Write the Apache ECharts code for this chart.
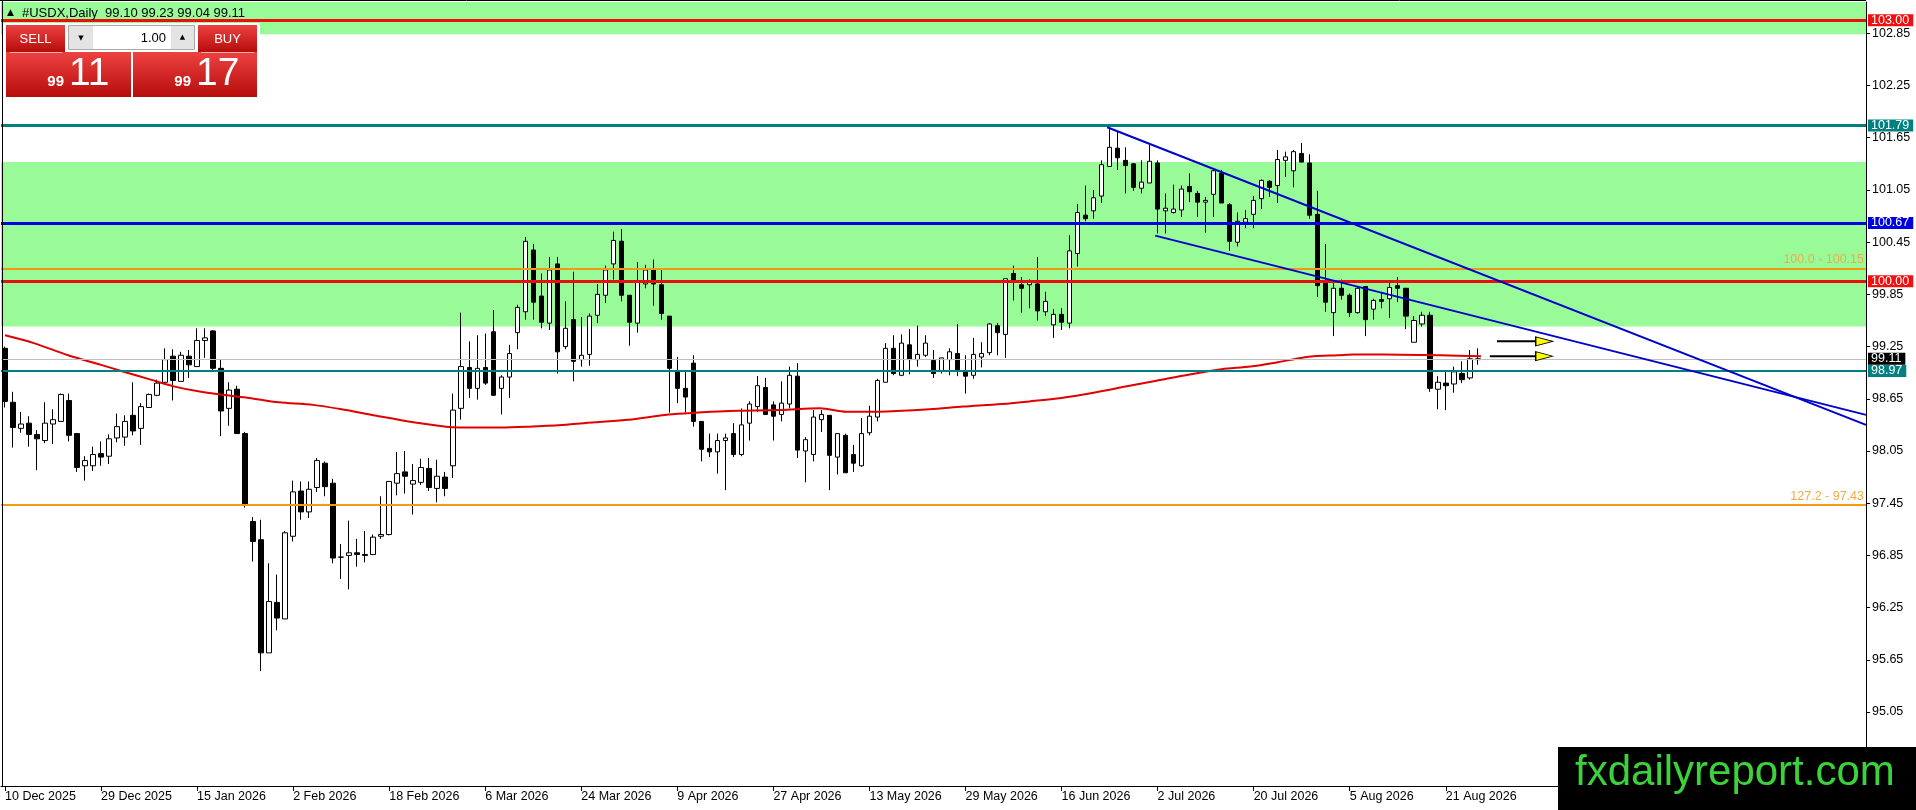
<!DOCTYPE html>
<html><head><meta charset="utf-8">
<script src="https://cdn.jsdelivr.net/npm/echarts@6/dist/echarts.min.js"></script>
<style>html,body{margin:0;padding:0;background:#fff;overflow:hidden}#c{width:1916px;height:810px}</style>
</head><body><div id="c"></div>
<script>
// ---------- data ----------
const symbolName = '#USDX,Daily';
const tickLabels = ['10 Dec 2025','29 Dec 2025','15 Jan 2026','2 Feb 2026','18 Feb 2026','6 Mar 2026','24 Mar 2026','9 Apr 2026','27 Apr 2026','13 May 2026','29 May 2026','16 Jun 2026','2 Jul 2026','20 Jul 2026','5 Aug 2026','21 Aug 2026'];
const opens = [
99.23,98.61,98.31,98.37,98.24,98.17,98.36,98.39,98.63,98.25,97.88,97.88,98.02,97.99,98.20,98.21,98.46,98.31,98.55,98.69,
98.84,99.14,98.85,99.14,99.02,99.32,99.43,99.00,98.54,98.76,98.25,97.24,97.03,95.73,96.31,96.12,97.07,97.59,97.35,97.63,
97.91,97.68,96.83,96.85,96.88,96.86,96.86,97.07,97.09,97.68,97.81,97.67,97.69,97.85,97.62,97.75,97.88,98.54,99.01,98.77,
99.01,99.42,98.77,98.90,99.41,99.65,100.36,99.83,99.52,100.20,99.25,99.56,99.10,99.16,99.61,99.84,100.20,100.46,99.84,99.52,
99.97,100.14,99.96,99.60,98.96,98.77,99.06,98.39,98.08,98.04,98.17,98.25,98.01,98.37,98.56,98.78,98.58,98.47,98.59,98.91,
98.05,98.01,98.41,98.46,97.98,98.23,98.01,97.88,98.26,98.44,98.84,99.23,98.92,99.27,99.10,99.15,99.09,98.97,99.10,99.17,
98.96,98.92,99.13,99.18,99.49,99.39,100.09,99.96,99.96,99.97,99.65,99.50,99.62,99.52,100.32,100.76,100.81,100.98,101.32,101.53,
101.39,101.35,101.07,101.13,101.36,100.81,100.79,100.82,101.09,101.01,100.91,101.00,101.24,100.88,100.45,100.68,100.77,100.95,101.15,101.10,
101.39,101.27,101.47,101.36,100.77,99.98,99.64,99.92,99.84,99.64,99.94,99.68,99.79,99.80,99.95,99.92,99.30,99.51,99.61,98.76,
98.83,98.82,98.94,98.89,99.10];
const highs = [
99.25,98.73,98.50,98.45,98.29,98.61,98.53,98.71,98.71,98.25,97.99,98.10,98.16,98.24,98.48,98.46,98.84,98.60,98.71,98.87,
99.23,99.22,99.19,99.21,99.46,99.46,99.44,99.10,98.84,98.80,98.27,97.29,97.26,96.76,96.63,97.13,97.71,97.70,97.70,97.97,
97.93,97.73,96.98,97.25,97.04,97.13,97.09,97.53,97.70,98.04,98.05,97.90,97.96,97.97,97.95,97.81,98.71,99.64,99.31,99.38,
99.40,99.67,98.92,99.27,99.73,100.51,100.43,100.09,100.28,100.28,99.77,100.11,99.59,99.63,99.97,100.18,100.57,100.60,99.84,100.22,
100.19,100.25,100.13,99.60,99.13,98.96,99.15,98.39,98.25,98.25,98.25,98.37,98.54,98.62,98.91,98.89,98.62,98.85,99.02,99.06,
98.21,98.52,98.52,98.46,98.25,98.25,98.12,98.43,98.57,98.88,99.29,99.38,99.39,99.45,99.49,99.38,99.21,99.12,99.23,99.51,
99.15,99.35,99.30,99.52,99.52,100.03,100.18,100.05,100.02,100.28,99.88,99.68,99.69,100.53,100.89,101.10,101.05,101.39,101.76,101.72,
101.54,101.36,101.39,101.57,101.39,101.01,101.11,101.10,101.24,101.04,100.97,101.28,101.28,100.90,100.79,100.82,100.98,101.17,101.16,101.51,
101.49,101.51,101.59,101.46,101.04,100.43,99.98,100.02,99.86,99.94,99.94,99.80,99.87,99.98,100.05,99.92,99.60,99.65,99.65,98.91,
98.96,99.02,99.08,99.21,99.23];
const lows = [
98.55,98.09,98.26,98.10,97.83,98.14,98.13,98.39,98.16,97.81,97.71,97.82,97.88,97.90,98.15,98.11,98.23,98.12,98.55,98.68,
98.83,98.63,98.85,98.89,99.02,99.12,98.98,98.22,98.34,98.25,97.40,96.78,95.52,95.73,95.99,96.12,97.01,97.26,97.28,97.58,
97.53,96.76,96.58,96.46,96.72,96.77,96.86,97.04,97.08,97.54,97.56,97.32,97.66,97.59,97.46,97.53,97.74,98.41,98.66,98.64,
98.81,98.69,98.47,98.66,99.22,99.56,99.56,99.46,99.44,98.94,99.22,98.85,99.02,99.03,99.52,99.75,100.02,99.77,99.26,99.41,
99.92,99.72,99.56,98.49,98.60,98.49,98.33,97.93,97.98,97.79,97.60,97.98,97.99,98.17,98.50,98.47,98.17,98.39,98.54,97.97,
97.69,97.93,98.27,97.60,97.78,97.80,97.81,97.87,98.23,98.39,98.84,98.92,98.91,98.93,99.02,99.13,98.89,98.94,98.92,98.91,
98.71,98.88,99.01,99.15,99.15,99.12,99.78,99.64,99.69,99.55,99.60,99.35,99.44,99.46,100.17,100.69,100.72,100.90,101.32,101.28,
101.01,101.04,101.01,101.13,100.55,100.55,100.78,100.74,100.91,100.74,100.56,100.74,100.90,100.35,100.40,100.61,100.61,100.83,100.97,100.90,
101.20,101.08,101.37,100.72,99.82,99.65,99.37,99.79,99.59,99.63,99.37,99.56,99.69,99.58,99.76,99.45,99.30,99.48,98.73,98.53,
98.52,98.72,98.83,98.87,99.04];
const closes = [
98.62,98.32,98.36,98.24,98.19,98.37,98.41,98.70,98.23,97.86,97.94,98.01,97.98,98.19,98.33,98.39,98.28,98.56,98.70,98.83,
99.10,98.86,99.15,99.04,99.32,99.35,99.00,98.51,98.75,98.25,97.43,97.01,95.73,96.32,96.13,97.11,97.58,97.35,97.61,97.94,
97.64,96.82,96.83,96.88,96.86,96.85,97.06,97.09,97.70,97.79,97.76,97.71,97.86,97.63,97.76,97.62,98.52,99.02,98.77,99.00,
98.83,98.69,98.90,99.17,99.70,100.46,99.76,99.53,100.13,99.19,99.46,99.08,99.15,99.60,99.85,100.13,100.47,99.84,99.53,99.99,
100.13,99.97,99.63,99.00,98.77,98.67,98.39,98.07,98.04,98.17,98.20,98.01,98.35,98.59,98.80,98.47,98.45,98.60,98.92,98.06,
98.18,98.44,98.47,98.00,98.25,97.80,97.91,98.25,98.45,98.86,99.23,98.94,99.29,99.10,99.16,99.29,98.94,99.12,99.19,98.98,
98.91,99.16,99.17,99.51,99.41,100.03,100.00,99.92,100.01,99.66,99.77,99.62,99.53,100.35,100.79,100.72,100.96,101.34,101.54,101.42,
101.33,101.08,101.14,101.38,100.83,100.84,100.83,101.06,101.03,100.91,100.93,101.27,100.90,100.46,100.69,100.72,100.93,101.16,101.08,101.40,
101.43,101.49,101.37,100.76,99.95,99.76,99.92,99.84,99.64,99.92,99.56,99.78,99.77,99.93,99.92,99.60,99.55,99.61,98.77,98.84,
98.80,98.96,98.87,99.11,99.11];
// moving average: [bar index, value]
const maPoints = [[0,99.38],[3.6,99.29],[7.9,99.15],[12,99.04],[14.5,98.97],[18.2,98.87],[21.2,98.79],[24.5,98.73],[28.6,98.68],[30.5,98.66],
[34.2,98.61],[38.5,98.58],[42.6,98.52],[46.7,98.45],[51,98.38],[55.1,98.33],[59.2,98.32],[62,98.32],[65.4,98.33],[69.6,98.35],
[73.7,98.38],[77.9,98.41],[81.2,98.45],[82.9,98.47],[86.3,98.49],[90.4,98.51],[96.8,98.52],[101.8,98.54],[105.1,98.50],[107.6,98.50],
[111.4,98.51],[115.5,98.53],[119.7,98.56],[124.5,98.59],[128,98.62],[132,98.66],[136,98.72],[140,98.79],[144,98.86],[148,98.93],
[152,98.99],[155.6,99.02],[159,99.07],[161.9,99.12],[163.5,99.14],[166.5,99.15],[168.5,99.16],[172.2,99.16],[179.4,99.15],[184.4,99.14]];
const yTicks = [95.05,95.65,96.25,96.85,97.45,98.05,98.65,99.25,99.85,100.45,101.05,101.65,102.25,102.85];
const levelValues = [103.00, 101.79, 100.67, 100.15, 100.00, 99.11, 98.97, 97.43];
const fibTexts = ['100.0 - 100.15', '127.2 - 97.43'];
const bandRanges = [[102.84, 103.21], [99.48, 101.37]];
const trendLines = [[[137.7, 101.77], [232.5, 98.35]], [[143.7, 100.525], [232.5, 98.465]]];
const arrowLevels = [99.31, 99.14];
const arrowStarts = [186.4, 185.5];
const arrowEnd = 191.3, arrowHead = 192.3;
const bid = 99.11, ask = 99.17, lot = '1.00';
const N = 233; // bar slots on the time axis (incl. empty space on the right)
const yMin = 94.2, yMax = 103.21;

// ---------- build ----------
const FONT = 'Liberation Sans, Arial, sans-serif';
const categories = Array.from({length: N}, (_, i) => 'b' + i);
const candles = opens.map((o, i) => [o, closes[i], lows[i], highs[i]]);
const last = candles.length - 1;
const showIdx = (idx) => idx % 12 === 0 && idx / 12 < tickLabels.length;

const RED = '#e8100c', TEAL = '#008080', BLUE = '#0000e0', ORANGE = '#f39a12';
function boxLabel(bg) {
  return {show: true, position: 'end', distance: 2, formatter: p => p.value.toFixed(2),
    color: '#fff', backgroundColor: bg, padding: [1, 4, 0, 3], fontSize: 12.5, fontFamily: FONT, lineHeight: 11};
}
function fibLabel(t) {
  return {show: true, position: 'insideEndTop', distance: 2, formatter: t, color: '#f2aa48', fontSize: 12.5, fontFamily: FONT};
}
const levelStyles = [
  {lineStyle: {color: RED, width: 3, type: 'solid'}, label: boxLabel('#f01010')},
  {lineStyle: {color: TEAL, width: 3, type: 'solid'}, label: boxLabel(TEAL)},
  {lineStyle: {color: BLUE, width: 3, type: 'solid'}, label: boxLabel(BLUE)},
  {lineStyle: {color: ORANGE, width: 2, type: 'solid'}, label: fibLabel(fibTexts[0])},
  {lineStyle: {color: RED, width: 3, type: 'solid'}, label: boxLabel('#f01010')},
  {lineStyle: {color: '#c0c0c0', width: 1, type: 'solid'}, label: boxLabel('#000')},
  {lineStyle: {color: TEAL, width: 2, type: 'solid'}, label: boxLabel(TEAL)},
  {lineStyle: {color: ORANGE, width: 2, type: 'solid'}, label: fibLabel(fibTexts[1])}
];
const markLineData = levelValues.map((v, i) => Object.assign({yAxis: v}, levelStyles[i]));

const redGrad = {type: 'linear', x: 0, y: 0, x2: 0, y2: 1,
  colorStops: [{offset: 0, color: '#ee4242'}, {offset: 1, color: '#b50c0c'}]};
const bidParts = bid.toFixed(2).split('.'), askParts = ask.toFixed(2).split('.');
const titleText = symbolName + '  ' + [opens[last], highs[last], lows[last], closes[last]].map(v => v.toFixed(2)).join(' ');

const G = [];
function add(el) { el.z = 100; G.push(el); }
// frame
add({type: 'line', shape: {x1: 2.5, y1: 0, x2: 2.5, y2: 786}, style: {stroke: '#000', lineWidth: 1}});
add({type: 'line', shape: {x1: 0, y1: 0.5, x2: 1866, y2: 0.5}, style: {stroke: '#000', lineWidth: 1}});
// title
add({type: 'text', x: 7, y: 13, style: {text: '\u25B2', font: '9px DejaVu Sans', fill: '#000', verticalAlign: 'middle'}});
add({type: 'text', x: 22, y: 13, style: {text: titleText, font: '13px ' + FONT, fill: '#000', verticalAlign: 'middle'}});
// trade panel
add({type: 'rect', shape: {x: 3, y: 23, width: 257, height: 77}, style: {fill: '#fff'}});
add({type: 'rect', shape: {x: 6, y: 25, width: 59, height: 27}, style: {fill: redGrad}});
add({type: 'rect', shape: {x: 198, y: 25, width: 59, height: 27}, style: {fill: redGrad}});
add({type: 'rect', shape: {x: 6, y: 52, width: 125, height: 45}, style: {fill: redGrad}});
add({type: 'rect', shape: {x: 133, y: 52, width: 124, height: 45}, style: {fill: redGrad}});
add({type: 'line', shape: {x1: 10, y1: 52.5, x2: 62, y2: 52.5}, style: {stroke: 'rgba(255,190,190,0.9)', lineWidth: 1}});
add({type: 'line', shape: {x1: 201, y1: 52.5, x2: 254, y2: 52.5}, style: {stroke: 'rgba(255,190,190,0.9)', lineWidth: 1}});
add({type: 'rect', shape: {x: 68.5, y: 25.5, width: 126, height: 24}, style: {fill: '#fff', stroke: '#a8a8a8', lineWidth: 1}});
add({type: 'rect', shape: {x: 69, y: 26, width: 24, height: 23}, style: {fill: '#e4e4e4'}});
add({type: 'rect', shape: {x: 171, y: 26, width: 23, height: 23}, style: {fill: '#e4e4e4'}});
add({type: 'text', x: 35.5, y: 39, style: {text: 'SELL', font: '13px ' + FONT, fill: '#fff', align: 'center', verticalAlign: 'middle'}});
add({type: 'text', x: 227.5, y: 39, style: {text: 'BUY', font: '13px ' + FONT, fill: '#fff', align: 'center', verticalAlign: 'middle'}});
add({type: 'text', x: 166, y: 38, style: {text: lot, font: '13px ' + FONT, fill: '#000', align: 'right', verticalAlign: 'middle'}});
add({type: 'text', x: 81, y: 38, style: {text: '\u25BC', font: '7px DejaVu Sans', fill: '#000', align: 'center', verticalAlign: 'middle'}});
add({type: 'text', x: 182.5, y: 37, style: {text: '\u25B2', font: '7px DejaVu Sans', fill: '#000', align: 'center', verticalAlign: 'middle'}});
add({type: 'text', x: 64, y: 82, style: {text: bidParts[0], font: 'bold 15px ' + FONT, fill: '#fff', align: 'right', verticalAlign: 'middle'}});
add({type: 'text', x: 69, y: 74, style: {text: bidParts[1], font: '39px ' + FONT, fill: '#fff', align: 'left', verticalAlign: 'middle'}});
add({type: 'text', x: 191, y: 82, style: {text: askParts[0], font: 'bold 15px ' + FONT, fill: '#fff', align: 'right', verticalAlign: 'middle'}});
add({type: 'text', x: 196, y: 74, style: {text: askParts[1], font: '39px ' + FONT, fill: '#fff', align: 'left', verticalAlign: 'middle'}});
// watermark
add({type: 'rect', shape: {x: 1558, y: 747, width: 358, height: 63}, style: {fill: '#000'}});
add({type: 'text', x: 1575, y: 773, style: {text: 'fxdailyreport.com', font: '42px ' + FONT, fill: '#3cd23c', verticalAlign: 'middle'}});

const option = {
  animation: false,
  backgroundColor: '#fff',
  textStyle: {fontFamily: FONT},
  grid: {left: 1, right: 50, top: 2, bottom: 24, containLabel: false},
  xAxis: [{
    type: 'category', data: categories, boundaryGap: true,
    axisLine: {show: true, onZero: false, lineStyle: {color: '#000', width: 1}},
    axisTick: {show: true, alignWithLabel: true, interval: showIdx, length: 5, lineStyle: {color: '#000'}},
    axisLabel: {show: true, interval: showIdx, formatter: (v, idx) => tickLabels[idx / 12] || '',
      align: 'left', color: '#000', fontSize: 12.5, fontFamily: FONT, margin: 4},
    splitLine: {show: false}
  }, {
    type: 'value', min: -0.5, max: N - 0.5, show: false, axisLine: {onZero: false}
  }],
  yAxis: {
    type: 'value', position: 'right', min: yMin, max: yMax, scale: true,
    axisLine: {show: true, onZero: false, lineStyle: {color: '#000', width: 1}},
    axisTick: {show: true, length: 4, customValues: yTicks, lineStyle: {color: '#000'}},
    axisLabel: {show: true, customValues: yTicks, formatter: v => v.toFixed(2), color: '#000',
      fontSize: 12.5, fontFamily: FONT, margin: 6},
    splitLine: {show: false}
  },
  series: [
    {type: 'line', name: 'bands', xAxisIndex: 1, data: [], z: 1, silent: true,
      markArea: {silent: true, itemStyle: {color: '#98fb98', opacity: 1},
        data: bandRanges.map(r => [{yAxis: r[0]}, {yAxis: r[1]}])}},
    {type: 'candlestick', name: 'USDX', xAxisIndex: 0, data: candles, barWidth: 5, z: 3,
      itemStyle: {color: '#fff', color0: '#000', borderColor: '#000', borderColor0: '#000', borderColorDoji: '#000', borderWidth: 1}},
    {type: 'line', name: 'MA', xAxisIndex: 1, data: maPoints, showSymbol: false, symbol: 'none', smooth: 0.3, z: 4,
      lineStyle: {color: '#e00000', width: 2}},
    {type: 'line', name: 'levels', xAxisIndex: 1, data: [], z: 5, silent: true,
      markLine: {silent: true, symbol: ['none', 'none'], animation: false, data: markLineData}},
    ...trendLines.map((t, k) => ({type: 'line', name: 'trend' + k, xAxisIndex: 1, data: t, symbol: 'none', z: 6,
      lineStyle: {color: '#0000cc', width: 2}})),
    ...arrowLevels.map((v, k) => ({type: 'line', name: 'arrow' + k, xAxisIndex: 1,
      data: [[arrowStarts[k], v], [arrowEnd, v]], symbol: 'none', z: 6, lineStyle: {color: '#000', width: 2}})),
    {type: 'scatter', name: 'heads', xAxisIndex: 1, data: arrowLevels.map(v => [arrowHead, v]), z: 7,
      symbol: 'triangle', symbolSize: [9, 17], symbolRotate: -90,
      itemStyle: {color: '#ffff00', borderColor: '#000', borderWidth: 1, opacity: 1}}
  ],
  graphic: G
};
const chart = echarts.init(document.getElementById('c'), null, {renderer: 'canvas'});
chart.setOption(option);
</script></body></html>
